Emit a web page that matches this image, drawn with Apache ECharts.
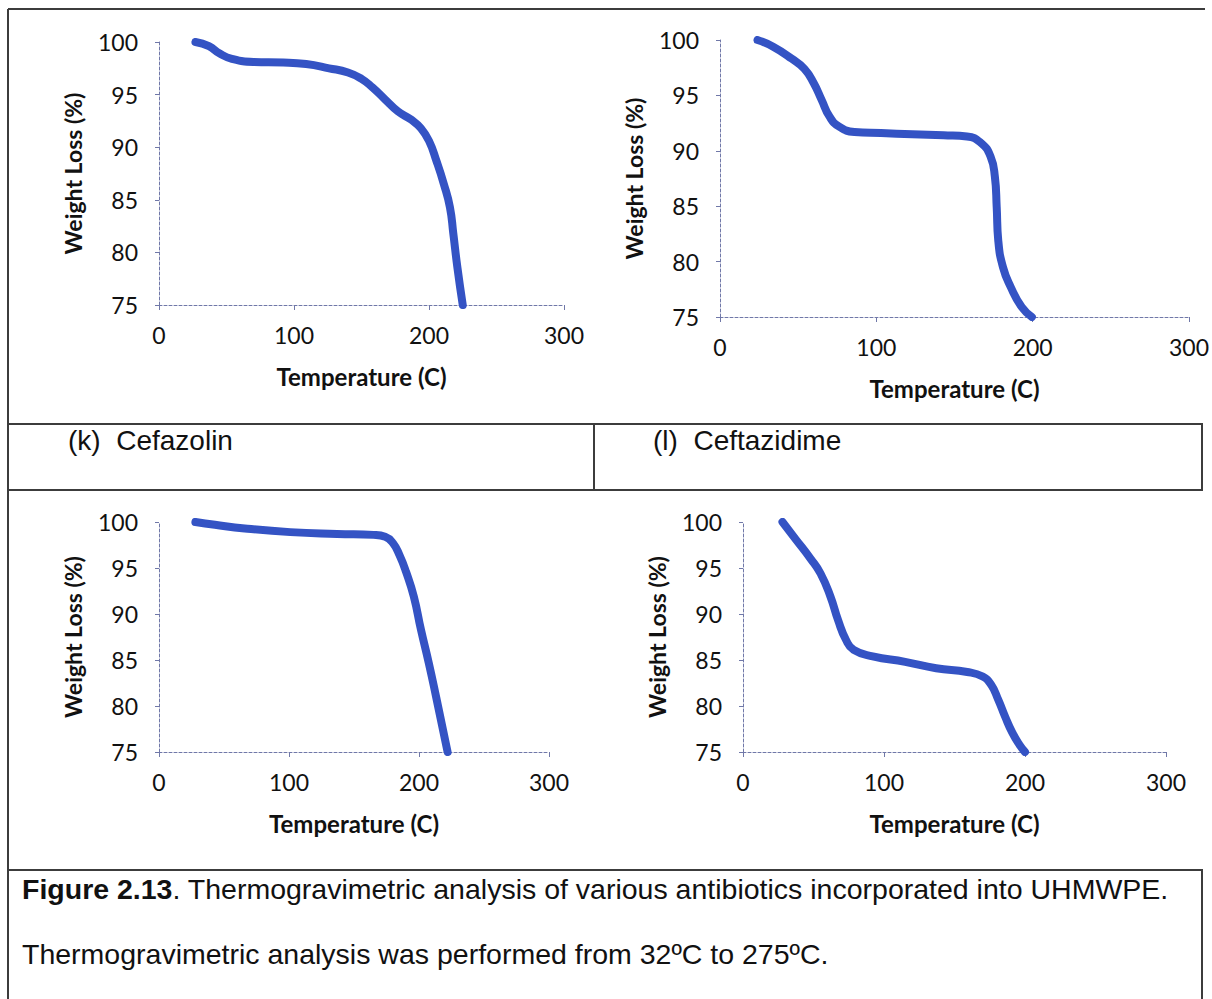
<!DOCTYPE html>
<html>
<head>
<meta charset="utf-8">
<script src="https://cdn.jsdelivr.net/npm/echarts@6/dist/echarts.min.js"></script>
<style>
  html, body { margin: 0; padding: 0; background: #fff; }
  #fig { width: 1212px; height: 999px; }
</style>
</head>
<body>
<div id="fig"></div>
<script>
// Thermogravimetric curves: temperature (C) vs remaining weight (%)
const cefazolinTemp   = [27, 37, 45, 54, 70, 92, 109, 126, 140, 150, 158, 167, 177, 187, 194, 200, 205.5, 211, 215.5, 218, 221, 225];
const cefazolinWeight = [100, 99.6, 98.9, 98.4, 98.1, 98.05, 97.9, 97.5, 97.1, 96.5, 95.7, 94.6, 93.4, 92.6, 91.8, 90.6, 88.7, 86.5, 84.3, 81.8, 78.6, 75];

const ceftazidimeTemp   = [24, 34, 46, 54, 60, 65, 70, 76, 86, 103, 123, 143, 158, 167, 173, 175.8, 177, 178, 181, 186, 193, 199.5];
const ceftazidimeWeight = [100, 99.4, 98.3, 97.4, 96.1, 94.6, 93.1, 92.2, 91.7, 91.6, 91.5, 91.4, 91.3, 90.7, 89.5, 87.7, 84.9, 81.9, 79.5, 77.7, 75.9, 75];

const curveCTemp   = [28, 43, 66, 101, 137, 165, 174, 180, 185, 190, 196, 201.5, 207.5, 213, 222];
const curveCWeight = [100, 99.7, 99.3, 98.9, 98.7, 98.6, 98.4, 97.7, 96.4, 94.6, 91.9, 88.3, 84.7, 81.1, 75];

const curveDTemp   = [28, 37, 48, 55, 62, 67.5, 73, 78.5, 92, 115, 137, 159, 170, 176, 181, 186, 191, 196, 200];
const curveDWeight = [100, 98.2, 96.0, 94.4, 91.9, 89.3, 87.2, 86.1, 85.4, 84.8, 84.1, 83.7, 83.2, 82.3, 80.7, 78.8, 77.1, 75.8, 75];

const xTicks = { min: 0, max: 300, interval: 100 };
const yTicks = { min: 75, max: 100, interval: 5 };

const panelLabels = ['(k)  Cefazolin', '(l)  Ceftazidime'];
const captionBold = 'Figure 2.13';
const captionRest = '. Thermogravimetric analysis of various antibiotics incorporated into UHMWPE.';
const captionNote = 'Thermogravimetric analysis was performed from 32\u00BAC to 275\u00BAC.';

const xName = 'Temperature (C)';
const yName = 'Weight Loss (%)';

const chartFont = 'Lato, "Open Sans", sans-serif';
const textFont = '"Liberation Sans", Arial, sans-serif';
const lineBlue = '#3453c4';
const axisBlue = '#7078a8';
const ruleGray = '#3c3c3c';

function pairs(xs, ys) { return xs.map((x, i) => [x, ys[i]]); }

const grids = [
  { left: 159, top: 42,  width: 405, height: 263 },
  { left: 720, top: 40,  width: 469, height: 277 },
  { left: 159, top: 522, width: 390, height: 230 },
  { left: 743, top: 522, width: 423, height: 230 }
];

const axisLine = { show: true, lineStyle: { color: axisBlue, width: 1, type: [3, 2] } };

const xAxes = grids.map((g, i) => ({
  type: 'value', gridIndex: i,
  min: xTicks.min, max: xTicks.max, interval: xTicks.interval,
  name: xName, nameLocation: 'middle', nameGap: 59,
  nameTextStyle: { fontFamily: chartFont, fontWeight: 'bold', fontSize: 24, color: '#111' },
  axisLine: axisLine,
  axisTick: { show: true, inside: false, length: 5, lineStyle: { color: axisBlue } },
  axisLabel: { fontFamily: chartFont, fontSize: 23, color: '#111', margin: 18 },
  splitLine: { show: false }
}));

const yAxes = grids.map((g, i) => ({
  type: 'value', gridIndex: i,
  min: yTicks.min, max: yTicks.max, interval: yTicks.interval,
  name: yName, nameLocation: 'middle', nameGap: 75, nameRotate: 90,
  nameTextStyle: { fontFamily: chartFont, fontWeight: 'bold', fontSize: 23, color: '#111' },
  axisLine: axisLine,
  axisTick: { show: true, inside: false, length: 4, lineStyle: { color: axisBlue } },
  axisLabel: { fontFamily: chartFont, fontSize: 23, color: '#111', margin: 21 },
  splitLine: { show: false }
}));

const curves = [
  pairs(cefazolinTemp, cefazolinWeight),
  pairs(ceftazidimeTemp, ceftazidimeWeight),
  pairs(curveCTemp, curveCWeight),
  pairs(curveDTemp, curveDWeight)
];

const series = curves.map((d, i) => ({
  type: 'line', xAxisIndex: i, yAxisIndex: i,
  data: d, smooth: 0.5, symbol: 'none', silent: true,
  lineStyle: { color: lineBlue, width: 8, cap: 'round', join: 'round' }
}));

// table rules framing the panels and caption
function hline(y, x1, x2) {
  return { type: 'line', shape: { x1: x1, y1: y, x2: x2, y2: y }, style: { stroke: ruleGray, lineWidth: 2 } };
}
function vline(x, y1, y2) {
  return { type: 'line', shape: { x1: x, y1: y1, x2: x, y2: y2 }, style: { stroke: ruleGray, lineWidth: 2 } };
}

const graphic = [
  hline(9, 8, 1205),
  hline(424, 8, 1203),
  hline(490, 8, 1203),
  hline(870, 8, 1203),
  vline(8, 9, 999),
  vline(594, 424, 490),
  vline(1202, 424, 490),
  vline(1202, 870, 999),
  { type: 'text', left: 68, top: 426,
    style: { text: panelLabels[0], font: '28px ' + textFont, fill: '#111' } },
  { type: 'text', left: 653, top: 426,
    style: { text: panelLabels[1], font: '28px ' + textFont, fill: '#111' } },
  { type: 'text', left: 22, top: 874,
    style: {
      text: '{b|' + captionBold + '}{r|' + captionRest + '}',
      rich: {
        b: { fontFamily: textFont, fontWeight: 'bold', fontSize: 28.5, fill: '#111' },
        r: { fontFamily: textFont, fontSize: 28.5, fill: '#111' }
      }
    } },
  { type: 'text', left: 22, top: 939,
    style: { text: captionNote, font: '28.5px ' + textFont, fill: '#111' } }
];

const chart = echarts.init(document.getElementById('fig'), null, { renderer: 'svg' });
chart.setOption({
  animation: false,
  backgroundColor: '#fff',
  grid: grids,
  xAxis: xAxes,
  yAxis: yAxes,
  series: series,
  graphic: graphic
});
</script>
</body>
</html>
